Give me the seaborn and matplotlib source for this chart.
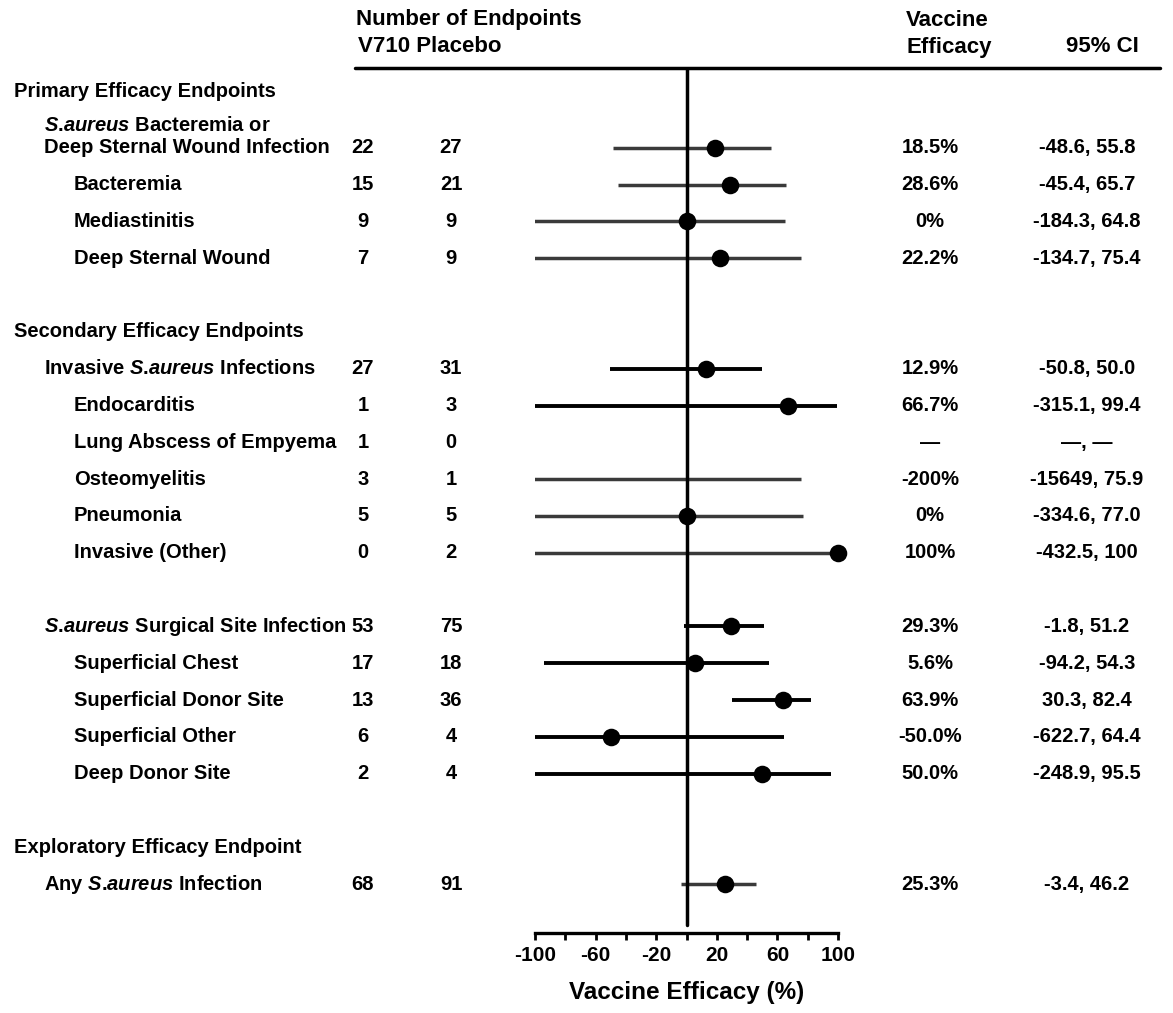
import numpy as np
import pandas as pd
import matplotlib
matplotlib.use("Agg")
import matplotlib.pyplot as plt
import seaborn as sns
from matplotlib.transforms import blended_transform_factory
from matplotlib.lines import Line2D

# ---------------- data ----------------
SA = r"$\mathit{S}$.$\mathit{aureus}$"
endpoints = ["Deep Sternal Wound Infection", "Bacteremia", "Mediastinitis", "Deep Sternal Wound",
             "Invasive " + SA + " Infections", "Endocarditis", "Lung Abscess of Empyema",
             "Osteomyelitis", "Pneumonia", "Invasive (Other)",
             SA + " Surgical Site Infection", "Superficial Chest",
             "Superficial Donor Site", "Superficial Other", "Deep Donor Site",
             "Any " + SA + " Infection"]
section = ["Primary"] * 4 + ["Secondary"] * 6 + ["SSI"] * 5 + ["Exploratory"]
v710 = [22, 15, 9, 7, 27, 1, 1, 3, 5, 0, 53, 17, 13, 6, 2, 68]
placebo = [27, 21, 9, 9, 31, 3, 0, 1, 5, 2, 75, 18, 36, 4, 4, 91]
ve = [18.5, 28.6, 0, 22.2, 12.9, 66.7, np.nan, -200, 0, 100, 29.3, 5.6, 63.9, -50.0, 50.0, 25.3]
ci_low = [-48.6, -45.4, -184.3, -134.7, -50.8, -315.1, np.nan, -15649, -334.6, -432.5,
          -1.8, -94.2, 30.3, -622.7, -248.9, -3.4]
ci_high = [55.8, 65.7, 64.8, 75.4, 50.0, 99.4, np.nan, 75.9, 77.0, 100,
           51.2, 54.3, 82.4, 64.4, 95.5, 46.2]
ve_text = ["18.5%", "28.6%", "0%", "22.2%", "12.9%", "66.7%", "\u2014", "-200%", "0%", "100%",
           "29.3%", "5.6%", "63.9%", "-50.0%", "50.0%", "25.3%"]
ci_text = ["-48.6, 55.8", "-45.4, 65.7", "-184.3, 64.8", "-134.7, 75.4", "-50.8, 50.0",
           "-315.1, 99.4", "\u2014, \u2014", "-15649, 75.9", "-334.6, 77.0", "-432.5, 100",
           "-1.8, 51.2", "-94.2, 54.3", "30.3, 82.4", "-622.7, 64.4", "-248.9, 95.5",
           "-3.4, 46.2"]
section_titles = {"Primary": "Primary Efficacy Endpoints",
                  "Secondary": "Secondary Efficacy Endpoints",
                  "Exploratory": "Exploratory Efficacy Endpoint"}
subgroup_heads = {0, 4, 10, 15}          # indentation level 1 rows
black_rows = {4, 5, 10, 11, 12, 13, 14}  # rows drawn with pure black CI lines
x_ticks_major = [-100, -60, -20, 20, 60, 100]
x_ticks_minor = [-80, -40, 0, 40, 80]

# ---------------- layout (row positions) ----------------
row_y = []
header_y = {}
y = 0.0
prev = None
for s in section:
    if prev is not None and s != prev:
        y += 1
        if s in section_titles:
            y += 1
            header_y[s] = y - 1
    row_y.append(y)
    prev = s
    y += 1
header_y["Primary"] = -1.52

df = pd.DataFrame({"endpoint": endpoints, "y": row_y, "ve": ve,
                   "lo": ci_low, "hi": ci_high})

# ---------------- style ----------------
sns.set_theme(style="white")
plt.rcParams["font.family"] = ["Liberation Sans", "DejaVu Sans"]
plt.rcParams["font.weight"] = "bold"
plt.rcParams["text.color"] = "black"
plt.rcParams["axes.labelcolor"] = "black"
plt.rcParams["xtick.color"] = "black"
plt.rcParams["mathtext.fontset"] = "custom"
plt.rcParams["mathtext.it"] = "Liberation Sans:italic:bold"
plt.rcParams["mathtext.rm"] = "Liberation Sans:bold"
plt.rcParams["mathtext.bf"] = "Liberation Sans:bold"

W, H = 1173, 1013
fig = plt.figure(figsize=(W / 100, H / 100), dpi=100)
ax_left, ax_right, ax_top, ax_bot = 535, 838, 68, 933
ax = fig.add_axes([ax_left / W, 1 - ax_bot / H, (ax_right - ax_left) / W, (ax_bot - ax_top) / H])

y_top = -2.17
y_bot = 21.33
ax.set_xlim(-100, 100)
ax.set_ylim(y_bot, y_top)

# CI lines
for i, r in df.iterrows():
    if np.isnan(r["lo"]):
        continue
    col = "black" if i in black_rows else "#3a3a3a"
    ax.hlines(r["y"], r["lo"], r["hi"], color=col, lw=2.8 if i in black_rows else 2.5, zorder=2)

# zero line
ax.axvline(0, ymin=0.009, ymax=1, color="black", lw=2.5, zorder=3)

# point estimates (only those inside the axis range)
pts = df[(df["ve"] >= -100) & (df["ve"] <= 100)]
sns.scatterplot(data=pts, x="ve", y="y", color="black", s=160, edgecolor="black",
                linewidth=0, zorder=5, clip_on=False, ax=ax, legend=False)

ax.set_ylabel("")
ax.set_yticks([])
for sp in ["top", "left", "right"]:
    ax.spines[sp].set_visible(False)
ax.spines["bottom"].set_linewidth(2.4)
ax.spines["bottom"].set_color("black")
ax.set_xticks(x_ticks_major)
ax.set_xticks(x_ticks_minor, minor=True)
ax.set_xticklabels([str(t) for t in x_ticks_major])
ax.tick_params(axis="x", which="both", direction="out", length=5, width=2, color="black",
               bottom=True, labelsize=15, pad=4, labelcolor="black")
ax.set_xlabel("Vaccine Efficacy (%)", fontsize=17.5, fontweight="bold", labelpad=12,
              color="black")

# ---------------- table text ----------------
tr = blended_transform_factory(fig.transFigure, ax.transData)
fs = 14.5
x_lvl = {0: 14 / W, 1: 44 / W, 2: 74 / W}
for s, t in section_titles.items():
    ax.text(x_lvl[0], header_y[s], t, transform=tr, fontsize=fs, ha="left", va="center",
            clip_on=False)
ax.text(x_lvl[1], row_y[0] - 0.6, SA + " Bacteremia or", transform=tr,
        fontsize=fs, ha="left", va="center", clip_on=False)
for i, lab in enumerate(endpoints):
    lvl = 1 if i in subgroup_heads else 2
    yy = row_y[i]
    ax.text(x_lvl[lvl], yy, lab, transform=tr, fontsize=fs, ha="left", va="center", clip_on=False)
    ax.text(363 / W, yy, str(v710[i]), transform=tr, fontsize=fs, ha="center", va="center",
            clip_on=False)
    ax.text(451 / W, yy, str(placebo[i]), transform=tr, fontsize=fs, ha="center", va="center",
            clip_on=False)
    ax.text(930 / W, yy, ve_text[i], transform=tr, fontsize=fs, ha="center", va="center",
            clip_on=False)
    ax.text(1087 / W, yy, ci_text[i], transform=tr, fontsize=fs, ha="center", va="center",
            clip_on=False)

# ---------------- header ----------------
hfs = 16
fig.text(356 / W, 1 - 20 / H, "Number of Endpoints", fontsize=hfs, ha="left", va="center")
fig.text(358 / W, 1 - 47 / H, "V710 Placebo", fontsize=hfs, ha="left", va="center")
fig.text(906 / W, 1 - 20 / H, "Vaccine", fontsize=hfs, ha="left", va="center")
fig.text(906 / W, 1 - 47 / H, "Efficacy", fontsize=hfs, ha="left", va="center")
fig.text(1066 / W, 1 - 47 / H, "95% CI", fontsize=hfs, ha="left", va="center")
fig.add_artist(Line2D([355 / W, 1160 / W], [1 - 68 / H, 1 - 68 / H], color="black", lw=2.5,
                      transform=fig.transFigure))

fig.savefig("out.png", dpi=100, facecolor="white")
